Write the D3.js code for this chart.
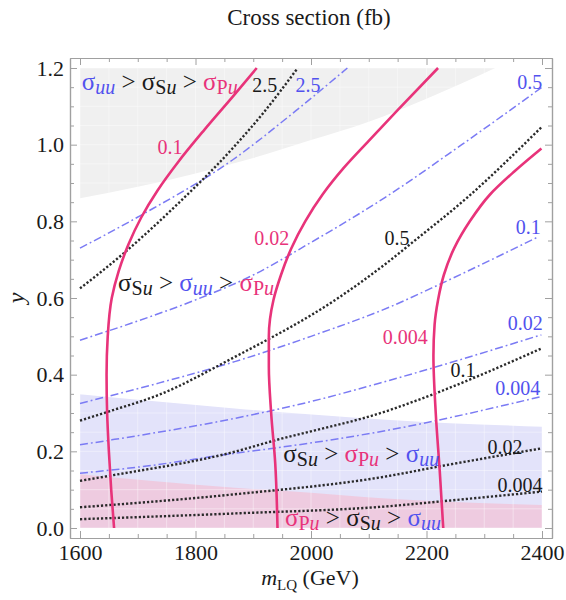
<!DOCTYPE html>
<html>
<head>
<meta charset="utf-8">
<script src="https://cdn.jsdelivr.net/npm/d3@7"></script>
<style>
  body {margin: 0; background: #fff;}
  svg text {font-family: "Liberation Serif", "DejaVu Serif", serif; white-space: pre;}
</style>
</head>
<body>
<div id="chart"></div>
<script>
//-- Axis ticks
var x_ticks = [1600, 1800, 2000, 2200, 2400];
var y_ticks = [0.0, 0.2, 0.4, 0.6, 0.8, 1.0, 1.2];

//-- Shaded regions (boundaries, [m_LQ, y])
var gray_bottom = [[1600, 0.86], [1700, 0.89], [1800, 0.925], [1900, 0.965], [2000, 1.012], [2100, 1.06], [2200, 1.12], [2319, 1.2]];
var blue_top = [[1600, 0.349], [1868, 0.312], [2137, 0.282], [2400, 0.264]];
var pink_top = [[1600, 0.14], [1736, 0.121], [1868, 0.105], [2000, 0.092], [2130, 0.077], [2400, 0.06]];

//-- sigma_Pu contours (solid)
var pu_0p1 = [[1659, 0], [1654, 0.1], [1650, 0.2], [1647, 0.3], [1646, 0.4], [1648, 0.5], [1655, 0.6], [1667, 0.67], [1684, 0.74], [1706, 0.81], [1734, 0.88], [1770, 0.955], [1816, 1.04], [1866, 1.128], [1906, 1.2]];
var pu_0p02 = [[1942, 0], [1938, 0.17], [1931, 0.3], [1927, 0.42], [1927, 0.5], [1935, 0.595], [1948, 0.66], [1966, 0.73], [1990, 0.8], [2020, 0.87], [2057, 0.94], [2100, 1.01], [2150, 1.09], [2220, 1.2]];
var pu_0p004 = [[2229, 0], [2223, 0.147], [2216, 0.3], [2212, 0.45], [2214, 0.53], [2220, 0.595], [2230, 0.66], [2248, 0.73], [2275, 0.8], [2310, 0.87], [2352, 0.93], [2399, 0.99]];

//-- sigma_Su contours (dotted)
var su_2p5 = [[1600, 0.625], [1672, 0.712], [1764, 0.838], [1864, 0.99], [1917, 1.082], [1977, 1.2]];
var su_0p5 = [[1600, 0.28], [1652, 0.305], [1736, 0.347], [1864, 0.443], [2047, 0.6], [2130, 0.69], [2174, 0.743], [2272, 0.864], [2400, 1.047]];
var su_0p1 = [[1600, 0.123], [1658, 0.138], [1868, 0.199], [1929, 0.225], [2137, 0.308], [2215, 0.351], [2400, 0.469]];
var su_0p02 = [[1600, 0.054], [1868, 0.088], [2128, 0.134], [2220, 0.16], [2400, 0.208]];
var su_0p004 = [[1600, 0.023], [1868, 0.038], [2128, 0.056], [2229, 0.07], [2400, 0.095]];

//-- sigma_uu contours (dash-dot)
var uu_2p5 = [[1600, 0.73], [1707, 0.817], [1864, 0.96], [1975, 1.09], [2063, 1.2]];
var uu_0p5 = [[1600, 0.49], [1700, 0.54], [1800, 0.595], [1900, 0.66], [2000, 0.745], [2128, 0.862], [2261, 1.0], [2400, 1.15]];
var uu_0p1 = [[1600, 0.325], [1736, 0.378], [1868, 0.434], [2000, 0.5], [2137, 0.577], [2226, 0.638], [2394, 0.76]];
var uu_0p02 = [[1600, 0.217], [1655, 0.23], [1868, 0.286], [2000, 0.33], [2133, 0.384], [2399, 0.504]];
var uu_0p004 = [[1600, 0.143], [1707, 0.16], [1868, 0.195], [1935, 0.208], [2133, 0.255], [2399, 0.343]];

//-- Contour labels: [text, family, m_LQ, y]
var contour_labels = [
  ['0.1', 'pu', 1756, 0.994], ['0.02', 'pu', 1932, 0.757], ['0.004', 'pu', 2163, 0.498],
  ['2.5', 'su', 1920, 1.156], ['0.5', 'su', 2149, 0.757], ['0.1', 'su', 2263, 0.412],
  ['0.02', 'su', 2336, 0.211], ['0.004', 'su', 2362, 0.112],
  ['2.5', 'uu', 1995, 1.156], ['0.5', 'uu', 2379, 1.164], ['0.1', 'uu', 2376, 0.785],
  ['0.02', 'uu', 2371, 0.535], ['0.004', 'uu', 2358, 0.365]
];

//-- Ordering labels: [order, m_LQ, y]
var order_labels = [
  [['uu', 'Su', 'Pu'], 1603, 1.142],
  [['Su', 'uu', 'Pu'], 1666, 0.618],
  [['Su', 'Pu', 'uu'], 1952, 0.172],
  [['Pu', 'Su', 'uu'], 1955, 0.005]
];

var line_color = {pu: '#e8337a', su: '#2a2a2a', uu: '#7b7bf4'};
var text_color = {pu: '#e8337a', su: '#1a1a1a', uu: '#5252ee', Pu: '#e8337a', Su: '#1a1a1a'};

function CS_Make_Canvas(wrap) {
  var tot_width = 566;
  var tot_height = 600;
  var margin = {left: 70, right: 14, bottom: 62, top: 58};
  var width = tot_width - margin.left - margin.right;
  var height = tot_height - margin.top - margin.bottom;
  
  var svg = d3.select(wrap.id)
    .append("svg")
      .attr("width", tot_width)
      .attr("height", tot_height)
    .append("g")
      .attr("transform", "translate(" + margin.left + "," + margin.top + ")");
  
  wrap.tot_width = tot_width;
  wrap.tot_height = tot_height;
  wrap.margin = margin;
  wrap.width = width;
  wrap.height = height;
  wrap.svg = svg;
}

function CS_Add_Order(wrap, d) {
  var text = wrap.svg.append('text')
    .attr('class', 'order')
    .attr('x', wrap.x(d[1]))
    .attr('y', wrap.y(d[2]))
    .style('font-size', '25px');
  var i, key, shift = 0;
  for (i=0; i<d[0].length; i++) {
    key = d[0][i];
    if (i > 0) {
      text.append('tspan').attr('dy', -shift).style('fill', '#1a1a1a').text(' > ');
      shift = 0;
    }
    text.append('tspan').style('fill', text_color[key]).text('σ');
    if (key == 'uu') {
      text.append('tspan').attr('dy', 4).style('fill', text_color[key])
        .style('font-size', '20px').style('font-style', 'italic').text('uu');
    }
    else {
      text.append('tspan').attr('dy', 4).style('fill', text_color[key])
        .style('font-size', '20px').text(key.charAt(0));
      text.append('tspan').style('fill', text_color[key])
        .style('font-size', '20px').style('font-style', 'italic').text('u');
    }
    shift = 4;
  }
}

function CS_initialize(wrap) {
  var pad_x = 800 * 10 / 462;
  var pad_y = 1.2 * 10 / 460;
  
  var x = d3.scaleLinear()
    .domain([1600 - pad_x, 2400 + pad_x])
    .range([0, wrap.width]);
  var y = d3.scaleLinear()
    .domain([-pad_y, 1.2 + pad_y])
    .range([wrap.height, 0]);
  wrap.x = x;
  wrap.y = y;
  
  //-- Regions
  var area_low = d3.area()
    .x(function (d) {return x(d[0]);})
    .y0(y(0))
    .y1(function (d) {return y(d[1]);})
    .curve(d3.curveMonotoneX);
  var area_high = d3.area()
    .x(function (d) {return x(d[0]);})
    .y0(y(1.2))
    .y1(function (d) {return y(d[1]);})
    .curve(d3.curveMonotoneX);
  
  wrap.svg.append('path').attr('d', area_high(gray_bottom)).style('fill', '#f0f0f0');
  wrap.svg.append('path').attr('d', area_low(blue_top)).style('fill', '#e3e3fa');
  wrap.svg.append('path').attr('d', area_low(pink_top)).style('fill', '#eecbe0');
  
  //-- Faint mesh on the shaded regions
  var minor_x = d3.range(1600, 2401, 50);
  var minor_y = d3.range(0, 1.201, 0.05);
  wrap.svg.selectAll()
    .data(minor_x)
    .enter()
    .append('line')
      .attr('x1', function (d) {return x(d);})
      .attr('x2', function (d) {return x(d);})
      .attr('y1', y(0))
      .attr('y2', y(1.2))
      .style('stroke', '#fff')
      .style('stroke-opacity', 0.4)
  wrap.svg.selectAll()
    .data(minor_y)
    .enter()
    .append('line')
      .attr('x1', x(1600))
      .attr('x2', x(2400))
      .attr('y1', function (d) {return y(d);})
      .attr('y2', function (d) {return y(d);})
      .style('stroke', '#fff')
      .style('stroke-opacity', 0.4)
  
  //-- Contours
  var line_x = d3.line()
    .x(function (d) {return x(d[0]);})
    .y(function (d) {return y(d[1]);})
    .curve(d3.curveMonotoneX);
  var line_y = d3.line()
    .x(function (d) {return x(d[0]);})
    .y(function (d) {return y(d[1]);})
    .curve(d3.curveMonotoneY);
  
  var uu_list = [uu_2p5, uu_0p5, uu_0p1, uu_0p02, uu_0p004];
  var su_list = [su_2p5, su_0p5, su_0p1, su_0p02, su_0p004];
  var pu_list = [pu_0p1, pu_0p02, pu_0p004];
  
  wrap.svg.selectAll()
    .data(uu_list)
    .enter()
    .append('path')
      .attr('d', line_x)
      .style('fill', 'none')
      .style('stroke', line_color.uu)
      .style('stroke-width', 1.5)
      .style('stroke-dasharray', '8,3,1.8,3')
  
  wrap.svg.selectAll()
    .data(su_list)
    .enter()
    .append('path')
      .attr('d', line_x)
      .style('fill', 'none')
      .style('stroke', line_color.su)
      .style('stroke-width', 2.4)
      .style('stroke-dasharray', '2.2,2')
  
  wrap.svg.selectAll()
    .data(pu_list)
    .enter()
    .append('path')
      .attr('d', function (d) {return line_y(d.slice().reverse());})
      .style('fill', 'none')
      .style('stroke', line_color.pu)
      .style('stroke-width', 2.6)
  
  //-- Contour labels
  wrap.svg.selectAll()
    .data(contour_labels)
    .enter()
    .append('text')
      .attr('x', function (d) {return x(d[2]);})
      .attr('y', function (d) {return y(d[3]);})
      .attr('text-anchor', 'middle')
      .attr('dy', '0.35em')
      .style('font-size', '20px')
      .style('fill', function (d) {return text_color[d[1]];})
      .text(function (d) {return d[0];})
  
  //-- Ordering labels
  var i;
  for (i=0; i<order_labels.length; i++) CS_Add_Order(wrap, order_labels[i]);
  
  //-- Frame and ticks
  var minor_x_ticks = minor_x.filter(function (d) {return d % 200 != 0;});
  var minor_y_ticks = minor_y.filter(function (d) {return Math.abs(d*5 - Math.round(d*5)) > 1e-6;});
  
  var axes = [
    [d3.axisBottom, 'translate(0,' + wrap.height + ')', x, x_ticks, minor_x_ticks, d3.format('d')],
    [d3.axisTop, 'translate(0,0)', x, x_ticks, minor_x_ticks, ''],
    [d3.axisLeft, 'translate(0,0)', y, y_ticks, minor_y_ticks, d3.format('.1f')],
    [d3.axisRight, 'translate(' + wrap.width + ',0)', y, y_ticks, minor_y_ticks, '']
  ];
  
  axes.forEach(function (a) {
    wrap.svg.append('g')
      .attr('class', 'frame')
      .attr('transform', a[1])
      .call(a[0](a[2]).tickValues(a[4]).tickSize(-4).tickSizeOuter(0).tickFormat(''));
    wrap.svg.append('g')
      .attr('class', 'frame')
      .attr('transform', a[1])
      .call(a[0](a[2]).tickValues(a[3]).tickSize(-7).tickSizeOuter(0).tickPadding(6).tickFormat(a[5]));
  });
  
  wrap.svg.selectAll('.frame path.domain').style('stroke', '#a0a0a0').style('stroke-width', 1.2);
  wrap.svg.selectAll('.frame line').style('stroke', '#a0a0a0');
  wrap.svg.selectAll('.frame text')
    .style('font-family', '"Liberation Serif", serif')
    .style('font-size', '22px')
    .style('fill', '#1a1a1a');
  
  //-- Title and axis labels
  wrap.svg.append('text')
    .attr('x', wrap.width / 2 - 2)
    .attr('y', 25 - wrap.margin.top)
    .attr('text-anchor', 'middle')
    .style('font-size', '23px')
    .style('fill', '#1a1a1a')
    .text('Cross section (fb)');
  
  var xl = wrap.svg.append('text')
    .attr('x', wrap.width / 2 - 1)
    .attr('y', 585 - wrap.margin.top)
    .attr('text-anchor', 'middle')
    .style('font-size', '22px')
    .style('fill', '#1a1a1a');
  xl.append('tspan').style('font-style', 'italic').text('m');
  xl.append('tspan').attr('dy', 5).style('font-size', '15px').text('LQ');
  xl.append('tspan').attr('dy', -5).text(' (GeV)');
  
  wrap.svg.append('text')
    .attr('transform', 'translate(' + (24 - wrap.margin.left) + ',' + (298 - wrap.margin.top) + ') rotate(-90)')
    .attr('text-anchor', 'middle')
    .style('font-size', '24px')
    .style('font-style', 'italic')
    .style('fill', '#1a1a1a')
    .text('y');
}

var wrap = {id: '#chart'};
CS_Make_Canvas(wrap);
CS_initialize(wrap);
</script>
</body>
</html>
